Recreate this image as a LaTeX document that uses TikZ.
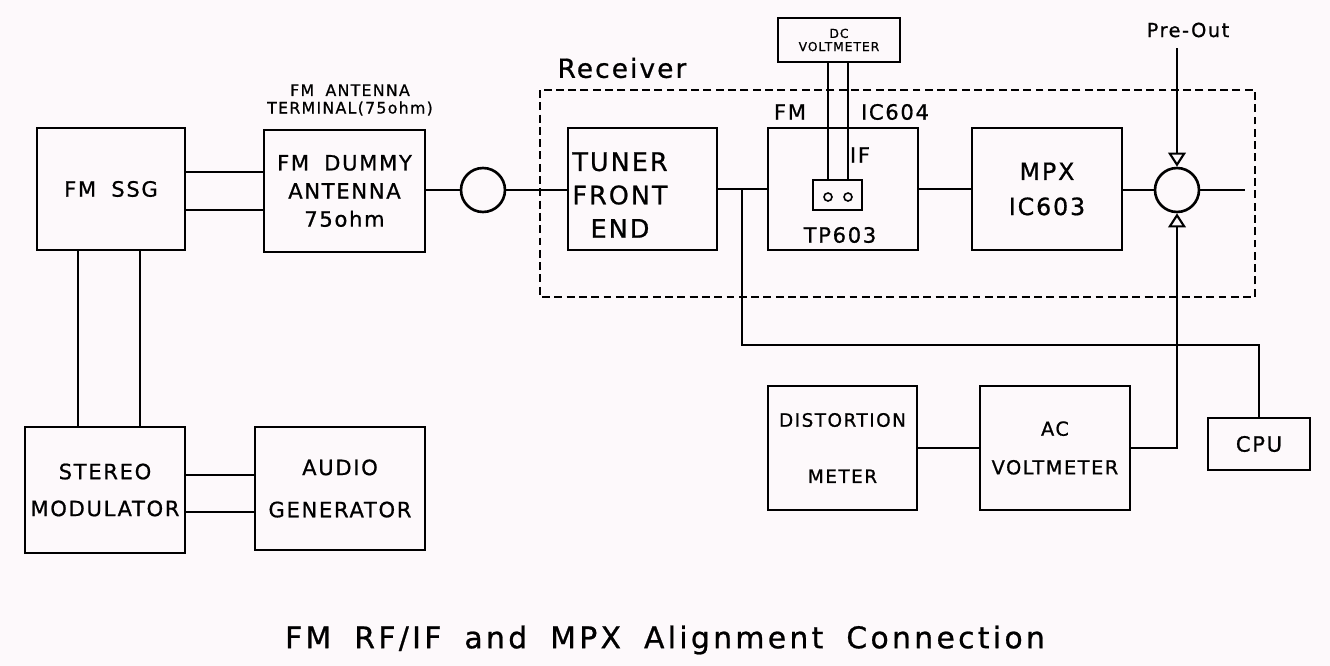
\documentclass[tikz,border=0pt]{standalone}
\usepackage{fontspec}
\setmainfont{DejaVu Sans}[LetterSpace=8, WordSpace=1.8, FakeBold=0.8]
\newfontfamily\capfont{DejaVu Sans}[LetterSpace=11, WordSpace=1.8, FakeBold=0.8]
\usetikzlibrary{arrows.meta,calc}

\begin{document}
\begin{tikzpicture}[x=0.02cm, y=-0.02cm, line width=1.5pt, every node/.style={font=\fontsize{12}{17}\selectfont}, blk/.style={draw, align=center, inner sep=0pt}, ring/.style={draw, circle, minimum size=0.88cm, inner sep=0pt}, tip/.style={-{Triangle[open, length=8pt, width=10pt, line width=1.2pt]}}, small/.style={font=\fontsize{9}{11}\selectfont}]
\definecolor{Sheet}{HTML}{FDF9FB}
\fill[Sheet] (0,0) rectangle (1330,666); \useasboundingbox (0,0) rectangle (1330,666);
% generator side
\node[blk, minimum width=2.96cm, minimum height=2.44cm] (ssg) at (111,189) {FM SSG};
\node[blk, minimum width=3.22cm, minimum height=2.44cm, font=\fontsize{12}{16}\selectfont] (dummy) at (344.5,191) {FM DUMMY\\ANTENNA\\75ohm};
\node[align=center, font=\fontsize{9}{10}\selectfont] (term) at (350,100) {FM ANTENNA\\TERMINAL(75ohm)};
\node[blk, minimum width=3.2cm, minimum height=2.52cm, font=\fontsize{12}{21}\selectfont] (stereo) at (105,490) {STEREO\\MODULATOR};
\node[blk, minimum width=3.4cm, minimum height=2.46cm, font=\fontsize{12}{24}\selectfont] (audio) at (340,488.5) {AUDIO\\GENERATOR};
\node[ring] (ant) at (483,190) {};
% receiver
\draw[dash pattern=on 4.5pt off 2.5pt] (540,90) rectangle (1255,297);
\node[font=\fontsize{15}{18}\selectfont] (rcv) at (622,68) {Receiver};
\node[draw, minimum width=2.98cm, minimum height=2.44cm] (tuner) at (642.5,189) {};
\node[align=center, font=\fontsize{14.5}{19}\selectfont] at (620,195) {TUNER\\FRONT\\END};
\node[draw, minimum width=3cm, minimum height=2.44cm] (fmif) at (843,189) {};
\node (fm) at (790,112) {FM}; \node (ic604) at (895,112) {IC604}; \node (ifl) at (860,155) {IF};
\node[draw, minimum width=0.98cm, minimum height=0.6cm] (tp) at (837.5,195) {};
\node[draw, circle, minimum size=0.16cm, inner sep=0pt, line width=0.9pt] (p1) at (828,197) {};
\node[draw, circle, minimum size=0.16cm, inner sep=0pt, line width=0.9pt] (p2) at (848,197) {};
\node (tpl) at (840,235) {TP603};
\node[blk, minimum width=2.44cm, minimum height=0.88cm, font=\fontsize{7}{7.5}\selectfont] (dcv) at (839,40) {DC\\VOLTMETER};
\node[blk, minimum width=3cm, minimum height=2.44cm, font=\fontsize{13.5}{20}\selectfont] (mpx) at (1047,189) {MPX\\IC603};
\node[ring] (mix) at (1177,190) {};
\node[font=\fontsize{11}{13}\selectfont] (pre) at (1188,30) {Pre-Out};
\coordinate (preend) at (1177,48); \coordinate (outend) at (1245,190);
% meters
\node[blk, minimum width=2.98cm, minimum height=2.48cm, font=\fontsize{10.5}{32}\selectfont] (dist) at (842.5,448) {DISTORTION\\METER};
\node[blk, minimum width=3cm, minimum height=2.48cm, font=\fontsize{11}{22}\selectfont] (acv) at (1055,448) {AC\\VOLTMETER};
\node[blk, minimum width=2.04cm, minimum height=1.04cm] (cpu) at (1259,444) {CPU};
\coordinate (tap) at (742,190); \coordinate (bus) at (1257,345);
% connections
\draw ([yshift=0.34cm]ssg.east) -- ([yshift=0.34cm]ssg.east -| dummy.west);
\draw ([yshift=-0.42cm]ssg.east) -- ([yshift=-0.42cm]ssg.east -| dummy.west);
\draw ([xshift=-0.66cm]ssg.south) -- ([xshift=-0.66cm]ssg.south |- stereo.north);
\draw ([xshift=0.58cm]ssg.south) -- ([xshift=0.58cm]ssg.south |- stereo.north);
\draw ([yshift=0.3cm]stereo.east) -- ([yshift=0.3cm]stereo.east -| audio.west);
\draw ([yshift=-0.44cm]stereo.east) -- ([yshift=-0.44cm]stereo.east -| audio.west);
\draw (dummy.east |- ant) -- (ant); \draw (ant) -- (ant -| tuner.west);
\draw (tuner.east |- fmif) -- (fmif.west); \draw (fmif.east) -- (mpx.west |- fmif.east);
\draw (mpx.east |- mix) -- (mix.west); \draw (mix.east) -- (outend);
\draw (p1 |- dcv.south) -- (p1 |- tp.north); \draw (p2 |- dcv.south) -- (p2 |- tp.north);
\draw[tip] (preend) -- (mix.north);
\draw[tip] (acv.east) -| (mix.south);
\draw (dist.east) -- (acv.west);
\draw (tap) |- (bus -| cpu.north) -- (cpu.north);
\node[font=\capfont\fontsize{17}{20}\selectfont] (title) at (665,640) {FM RF/IF and MPX Alignment Connection};
\end{tikzpicture}
\end{document}
